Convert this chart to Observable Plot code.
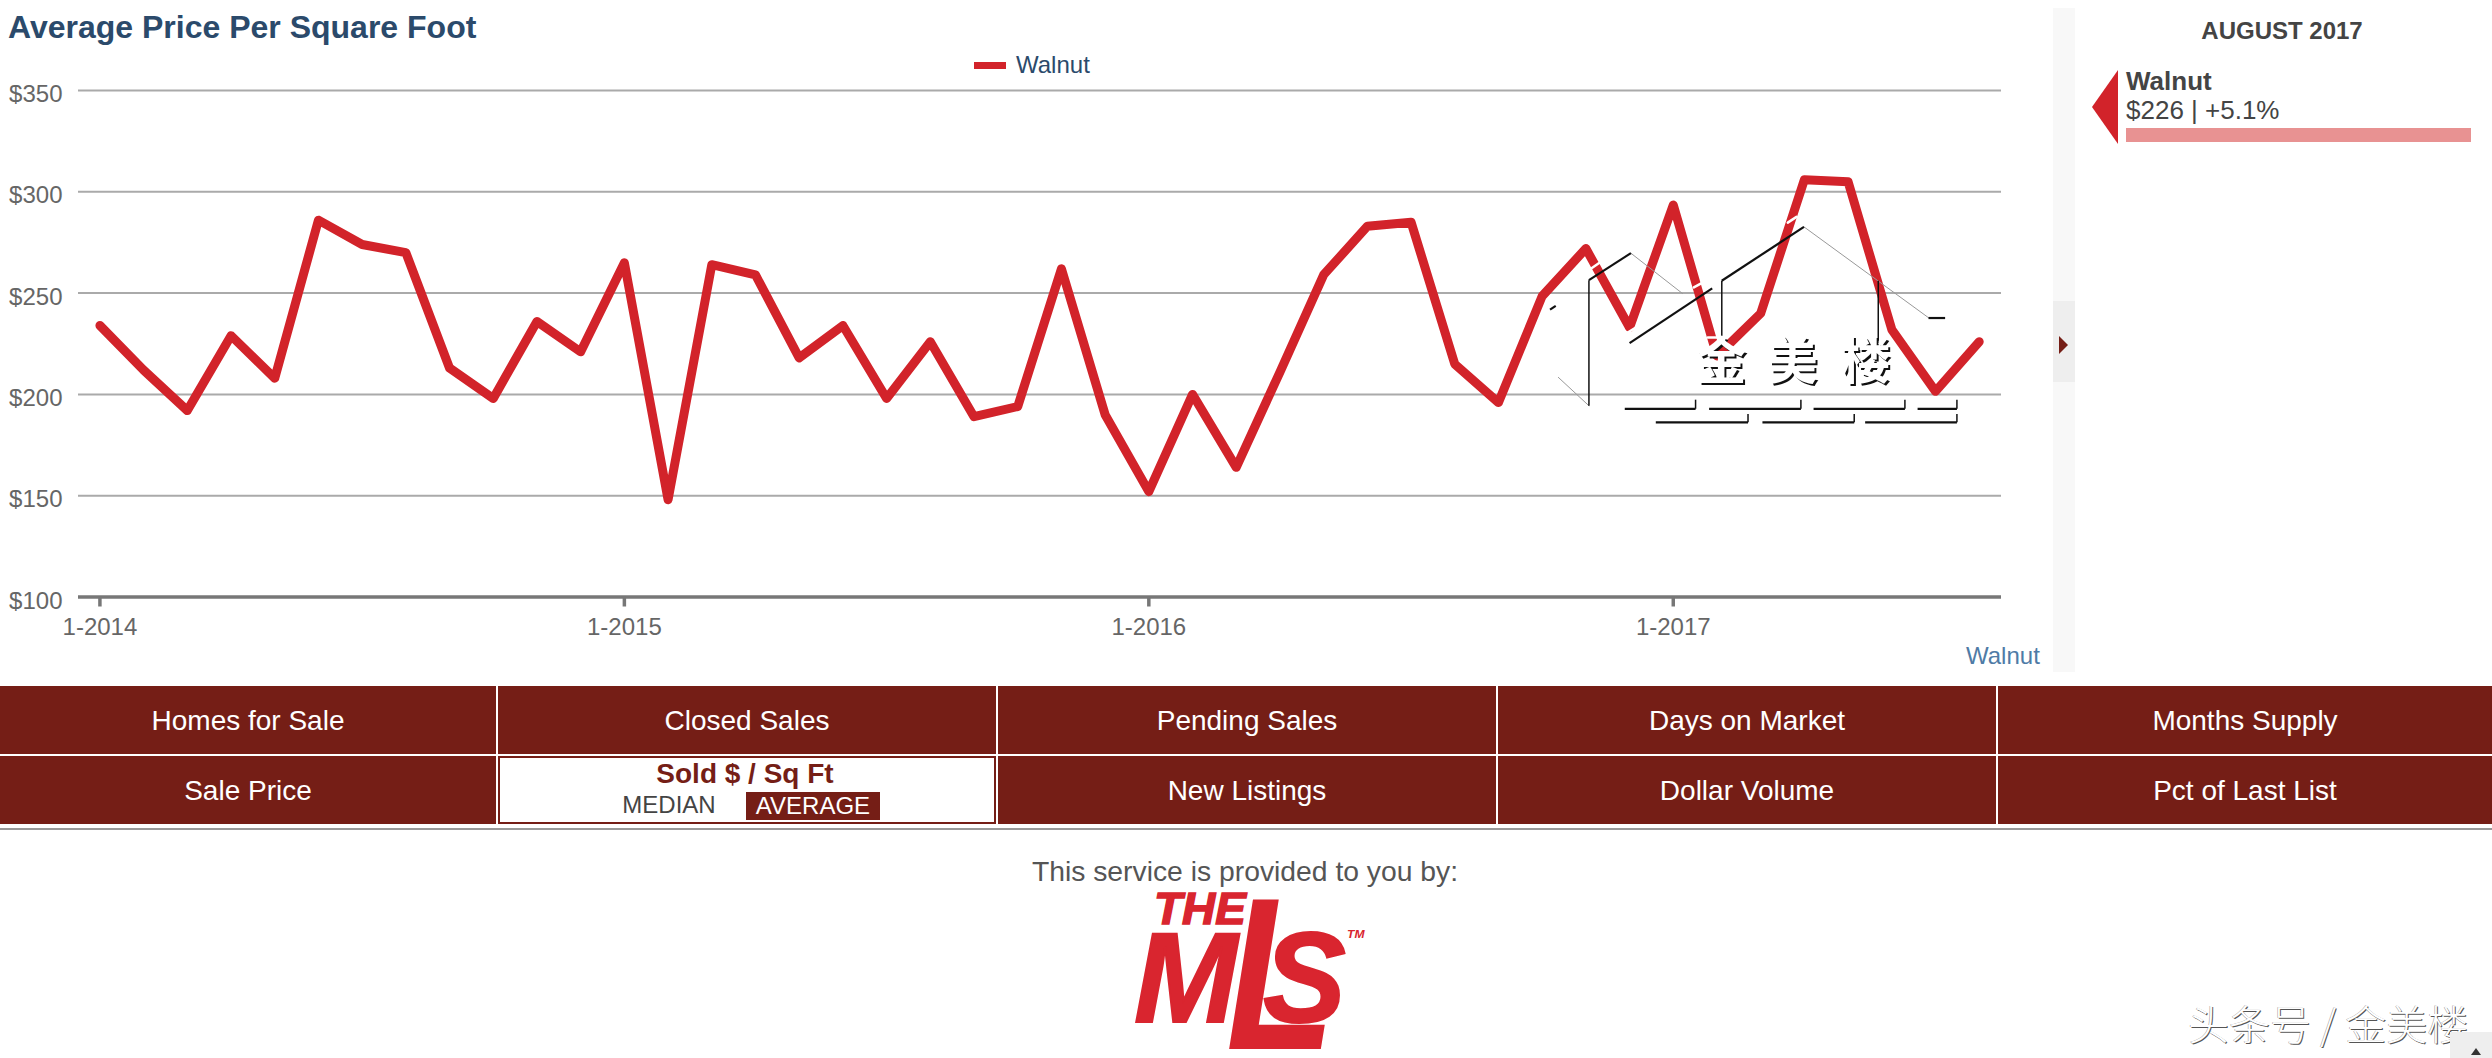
<!DOCTYPE html>
<html><head><meta charset="utf-8">
<script src="https://cdn.jsdelivr.net/npm/d3@7"></script>
<script src="https://cdn.jsdelivr.net/npm/@observablehq/plot@0.6"></script>
<style>
html,body{margin:0;padding:0;background:#fff;overflow:hidden}
body{width:2492px;height:1058px;position:relative;font-family:"Liberation Sans",Arial,sans-serif}
.a{position:absolute;white-space:nowrap}
.c{transform:translate(-50%,-50%)}
.m{transform:translateY(-50%)}
.btn{position:absolute;background:#751e16;color:#fff;font-size:28px;display:flex;align-items:center;justify-content:center;height:68px;padding-top:2px;box-sizing:border-box}
svg{position:absolute;left:0;top:0;overflow:visible}
.logo{position:absolute;white-space:nowrap;font-weight:bold;font-style:italic;color:#d9252f;transform-origin:0 0}
</style></head><body>
<div id="chart"></div>
<script>
const seriesName = "Walnut";
const monthIndex = d3.range(44);
const prices = [234,212,192,229,208,286,274,270,213,198,236,221,265,148,264,259,218,234,198,226,189,194,262,190,152,200,164,211,259,283,285,215,196,248.5,272,233,293.5,219,240,306,305,232,201.5,226];
const yTicks = [100,150,200,250,300,350];
const xTickValues = [0,12,24,36];
const xTickLabels = ["1-2014","1-2015","1-2016","1-2017"];
const panelPeriod = "AUGUST 2017";
const panelValue = "$226 | +5.1%";
const buttonsRow1 = ["Homes for Sale","Closed Sales","Pending Sales","Days on Market","Months Supply"];
const buttonsRow2 = ["Sale Price","","New Listings","Dollar Volume","Pct of Last List"];
const watermarkChars = [{i:37.1,v:215.6,t:"金"},{i:38.73,v:215.6,t:"美"},{i:40.4,v:215.6,t:"楼"}];
const strokesThick = [
 [[34.07,256.4],[35.03,269.7]],[[35.00,225.3],[36.89,252.3]],[[37.11,256.1],[38.99,282.7]],
 [[33.18,241.8],[33.31,243.7]],[[41.84,237.7],[42.22,237.7]],
 [[34.89,192.9],[36.51,192.9]],[[36.82,192.9],[38.92,192.9]],[[39.21,192.9],[41.30,192.9]],[[41.59,192.9],[42.49,192.9]],
 [[35.60,186.2],[37.71,186.2]],[[38.04,186.2],[40.14,186.2]],[[40.39,186.2],[42.49,186.2]]
];
const strokesThin = [
 [[34.07,256.4],[34.07,194.4]],[[37.11,256.1],[37.11,228.9]],[[40.69,256.1],[40.69,226.5]],
 [[36.51,192.9],[36.51,197.4]],[[38.92,192.9],[38.92,197.4]],[[41.30,192.9],[41.30,197.4]],[[42.49,192.9],[42.49,197.4]],
 [[37.71,186.2],[37.71,190.3]],[[40.14,186.2],[40.14,190.3]],[[42.49,186.2],[42.49,190.3]]
];
const strokesFaint = [
 [[35.03,269.7],[36.21,249.8]],[[38.99,282.7],[41.85,237.7]],[[33.37,208.4],[34.07,194.4]]
];
const strokesWhite = [
 [[34.13,262.3],[34.32,265.1]],[[36.47,252.8],[36.67,255.2]],[[38.62,284.8],[38.82,287.6]],[[34.93,230.1],[35.18,233.5]],[[36.79,228.1],[37.01,228.1]]
];
const series = monthIndex.map((m,k)=>({m,price:prices[k]}));
const segs = (list)=>list.flatMap((s,id)=>s.map(([i,v])=>({id,i,v})));

const RED="#d2232a", GREY="#666";
const chart = Plot.plot({
  width:2040,height:680,marginLeft:78,marginRight:39,marginTop:90,marginBottom:83.5,
  style:{fontFamily:"Liberation Sans",background:"transparent",overflow:"visible"},
  x:{type:"linear",domain:[-0.49,43.51]},
  y:{type:"linear",domain:[100,350]},
  marks:[
    Plot.ruleY(yTicks.slice(1),{stroke:"#aaa",strokeWidth:2,strokeOpacity:1}),
    Plot.ruleY([100],{stroke:"#777",strokeWidth:3.5}),
    Plot.axisX({ticks:xTickValues,tickFormat:d=>xTickLabels[xTickValues.indexOf(d)],tickSize:10,tickPadding:11,strokeWidth:3.5,stroke:"#777",fill:GREY,fontSize:24,label:null}),
    Plot.axisY({ticks:yTicks,tickFormat:d=>"$"+d,tickSize:0,tickPadding:16,dy:4,fill:GREY,fontSize:24,label:null}),
    Plot.line(series,{x:"m",y:"price",stroke:RED,strokeWidth:9,strokeLinejoin:"round",strokeLinecap:"round"}),
    Plot.line(segs(strokesWhite),{x:"i",y:"v",z:"id",stroke:"#fff",strokeWidth:2.5}),
    Plot.line(segs(strokesFaint),{x:"i",y:"v",z:"id",stroke:"#999",strokeWidth:1,strokeLinejoin:"miter"}),
    Plot.line(segs(strokesThin),{x:"i",y:"v",z:"id",stroke:"#111",strokeWidth:1.5,strokeLinecap:"butt"}),
    Plot.line(segs(strokesThick),{x:"i",y:"v",z:"id",stroke:"#111",strokeWidth:2.2,strokeLinecap:"butt"}),
    Plot.text(watermarkChars,{x:"i",y:"v",text:"t",fill:"#111",fontSize:50,dx:2,dy:2,fontWeight:"bold",fontFamily:"Noto Sans CJK SC"}),
    Plot.text(watermarkChars,{x:"i",y:"v",text:"t",fill:"#fff",fontSize:50,fontWeight:"bold",fontFamily:"Noto Sans CJK SC"})
  ]
});
document.getElementById("chart").appendChild(chart);

function add(html,cls,style){const d=document.createElement("div");d.className=cls;d.style.cssText=style;d.innerHTML=html;document.body.appendChild(d);return d;}
// header
add("Average Price Per Square Foot","a m","left:8px;top:27px;font-size:32px;font-weight:bold;color:#2b4a6b");
add("","a","left:974px;top:62px;width:32px;height:7px;background:"+RED);
add(seriesName,"a m","left:1016px;top:65px;font-size:24px;color:#2b4a6b");
add(seriesName,"a m","left:1966px;top:656px;font-size:24px;color:#4f7ba6");
// scrubber strip
add("","a","left:2053px;top:8px;width:22px;height:664px;background:#f8f8f8");
add("","a","left:2053px;top:301px;width:22px;height:81px;background:#eeeeee");
add("","a","left:2059px;top:336px;width:0;height:0;border-top:9px solid transparent;border-bottom:9px solid transparent;border-left:9px solid #751e16");
// side panel
add(panelPeriod,"a c","left:2282px;top:31px;font-size:24px;font-weight:bold;color:#444");
add("","a","left:2092px;top:70px;width:0;height:0;border-top:37.5px solid transparent;border-bottom:37.5px solid transparent;border-right:26px solid "+RED);
add(seriesName,"a m","left:2126px;top:81px;font-size:26px;font-weight:bold;color:#444");
add(panelValue,"a m","left:2126px;top:110px;font-size:26px;color:#444");
add("","a","left:2126px;top:128px;width:345px;height:14px;background:#e89292");
// button grid
const colX=[0,498,998,1498,1998], colW=[496,498,498,498,494];
buttonsRow1.forEach((t,i)=>{const d=add(t,"btn","");d.style.left=colX[i]+"px";d.style.width=colW[i]+"px";d.style.top="686px";});
buttonsRow2.forEach((t,i)=>{const d=add(t,"btn","");d.style.left=colX[i]+"px";d.style.width=colW[i]+"px";d.style.top="756px";});
add("","a","left:498px;top:756px;width:498px;height:68px;background:#fff;border:2px solid #751e16;box-sizing:border-box");
add("Sold $ / Sq Ft","a c","left:745px;top:774px;font-size:28px;font-weight:bold;color:#751e16");
add("MEDIAN","a c","left:669px;top:805px;font-size:24px;color:#444");
add("","a","left:746px;top:792px;width:134px;height:28px;background:#751e16");
add("AVERAGE","a c","left:813px;top:806px;font-size:24px;color:#fff");
add("","a","left:0;top:828px;width:2492px;height:2px;background:#999");
// footer
add("This service is provided to you by:","a c","left:1245px;top:871px;font-size:28.3px;color:#555");
const logoStyle=(fs,left,top,sx,sw)=>`font-size:${fs}px;line-height:${fs*0.72}px;left:${left}px;top:${top}px;transform:scaleX(${sx});-webkit-text-stroke:${sw}px #d9252f`;
add("THE","logo",logoStyle(45,1154,893,1.02,1.5));
const mls=add("","","position:absolute;left:1134px;top:892px;width:230px;height:160px;overflow:visible");
[["M",128,0,40,.97,2],["L",218,92,4,.82,0],["S",128,129,40,.97,2]].forEach(([t,fs,l,tp,sx,sw])=>{
  const s=document.createElement("span");s.className="logo";s.textContent=t;s.style.cssText=logoStyle(fs,l,tp,sx,sw);mls.appendChild(s);
});
add("TM","logo","left:1347px;top:929px;font-size:11px;line-height:10px;transform:scaleX(1.1)");
// corner watermark and scroll control
add("头条号 / 金美楼","a","left:2188px;top:998px;font-size:41px;line-height:48px;font-family:'Noto Sans CJK SC';font-weight:300;color:#fff;text-shadow:1px 1px 0 #555,-.5px -.5px 0 #999");
add("","a","left:2450px;top:1032px;width:42px;height:26px;background:#eee");
add("","a","left:2471px;top:1048px;width:0;height:0;border-left:5px solid transparent;border-right:5px solid transparent;border-bottom:7px solid #333");
</script>
</body></html>
